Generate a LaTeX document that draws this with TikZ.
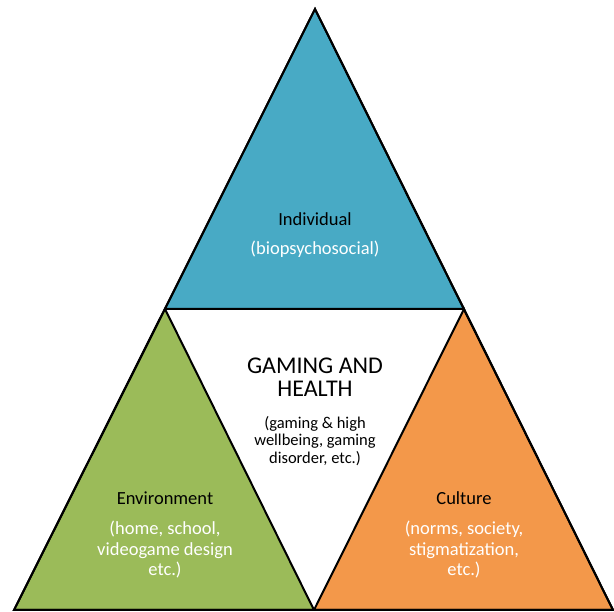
\documentclass[tikz,border=0pt]{standalone}
\usepackage{fontspec}
\setmainfont{Carlito}
\usetikzlibrary{positioning}

\definecolor{indblue}{HTML}{48AAC5}
\definecolor{envgreen}{HTML}{9BBB59}
\definecolor{culorange}{HTML}{F3984A}

\begin{document}
\begin{tikzpicture}[
  x=1pt, y=-1pt,
  part/.style={
    draw=black,
    line width=2pt,
    line join=miter
  },
  title/.style={
    text=black,
    font=\fontsize{18.5}{20}\selectfont,
    align=center,
    inner sep=0pt,
    anchor=base
  },
  subtitle/.style={
    text=white,
    font=\fontsize{18.5}{20.5}\selectfont,
    align=center,
    inner sep=0pt
  },
  centertitle/.style={
    text=black,
    font=\fontsize{24}{23}\selectfont,
    align=center,
    inner sep=0pt
  },
  centersub/.style={
    text=black,
    font=\fontsize{16.5}{17.5}\selectfont,
    align=center,
    inner sep=0pt
  }]
  \useasboundingbox (0,0) rectangle (614,612);
  % corners of the big triangle and the mid points
  \coordinate (apex) at (315,9);
  \coordinate (bl) at (14,610);
  \coordinate (br) at (613,610);
  \coordinate (ml) at (165,309);
  \coordinate (mr) at (464,309);
  \coordinate (mb) at (314,610);
  \fill[white] (ml) -- (mr) -- (mb) -- cycle;
  \filldraw[part,fill=indblue] (apex) -- (mr) -- (ml) -- cycle;
  \filldraw[part,fill=envgreen] (ml) -- (mb) -- (bl) -- cycle;
  \filldraw[part,fill=culorange] (mr) -- (br) -- (mb) -- cycle;
  \draw[part] (apex) -- (bl) -- (br) -- cycle;
  % labels
  \node[title] (ind) at (315,226) {Individual};
  \node[subtitle,anchor=base] (indsub) at (315,255) {(biopsychosocial)};
  \node[centertitle] (game) at (315,377) {GAMING AND\\HEALTH};
  \node[centersub] (gamesub) at (315,441) {(gaming \& high\\wellbeing, gaming\\disorder, etc.)};
  \node[title] (env) at (165,505) {Environment};
  \node[subtitle] (envsub) at (165,550) {(home, school,\\videogame design\\etc.)};
  \node[title] (cul) at (464,505) {Culture};
  \node[subtitle] (culsub) at (464,550) {(norms, society,\\stigmatization,\\etc.)};
\end{tikzpicture}
\end{document}
